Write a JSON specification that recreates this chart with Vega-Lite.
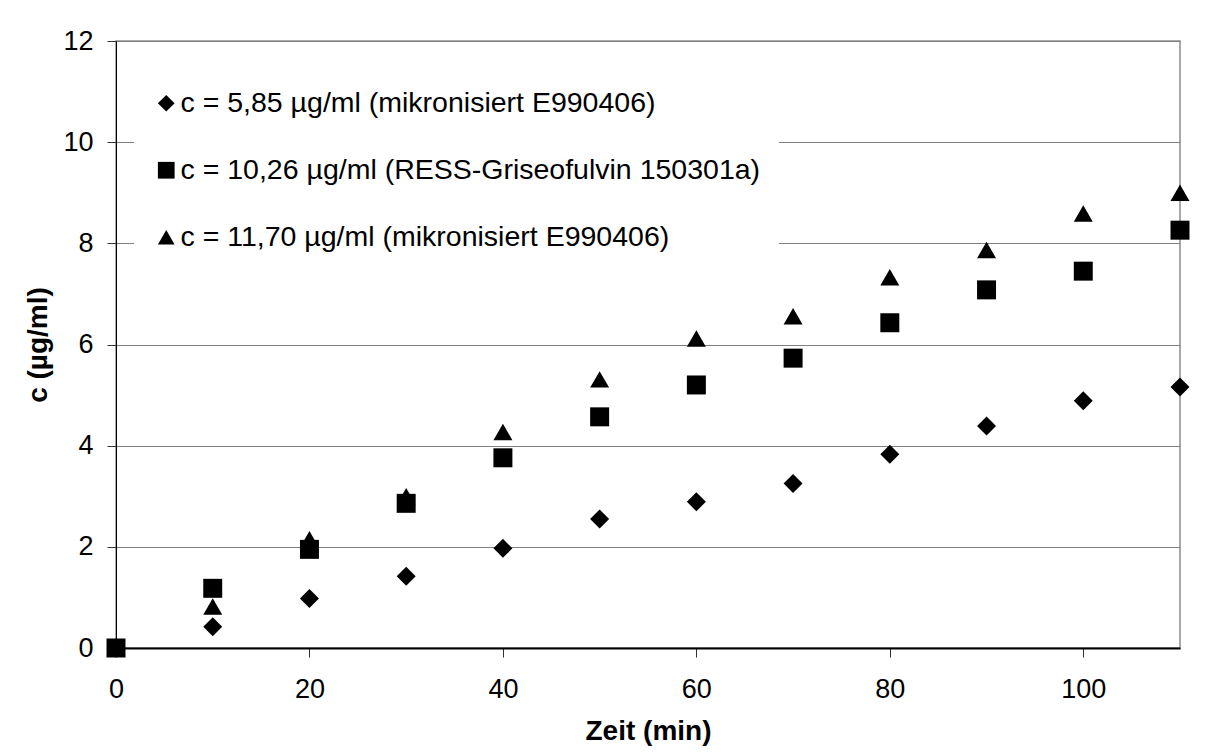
{
  "$schema": "https://vega.github.io/schema/vega-lite/v6.json",
  "width": 1064,
  "height": 607,
  "autosize": {"type": "none"},
  "padding": {"left": 116, "top": 41, "right": 31, "bottom": 108},
  "background": "white",
  "config": {
    "font": "Liberation Sans",
    "view": {"stroke": "#8c8c8c", "strokeWidth": 1.5},
    "axis": {
      "labelFont": "Liberation Sans",
      "titleFont": "Liberation Sans",
      "labelFontSize": 27,
      "titleFontSize": 28,
      "titleFontWeight": "bold",
      "labelColor": "black",
      "titleColor": "black",
      "domainColor": "black",
      "tickColor": "#333333",
      "tickSize": 9,
      "gridColor": "#808080",
      "gridWidth": 1
    }
  },
  "data": {
    "values": [
      {"t": 0, "c": 0, "s": "c = 11,70 µg/ml (mikronisiert E990406)"},
      {"t": 10, "c": 0.82, "s": "c = 11,70 µg/ml (mikronisiert E990406)"},
      {"t": 20, "c": 2.15, "s": "c = 11,70 µg/ml (mikronisiert E990406)"},
      {"t": 30, "c": 3.0, "s": "c = 11,70 µg/ml (mikronisiert E990406)"},
      {"t": 40, "c": 4.27, "s": "c = 11,70 µg/ml (mikronisiert E990406)"},
      {"t": 50, "c": 5.31, "s": "c = 11,70 µg/ml (mikronisiert E990406)"},
      {"t": 60, "c": 6.12, "s": "c = 11,70 µg/ml (mikronisiert E990406)"},
      {"t": 70, "c": 6.56, "s": "c = 11,70 µg/ml (mikronisiert E990406)"},
      {"t": 80, "c": 7.33, "s": "c = 11,70 µg/ml (mikronisiert E990406)"},
      {"t": 90, "c": 7.87, "s": "c = 11,70 µg/ml (mikronisiert E990406)"},
      {"t": 100, "c": 8.59, "s": "c = 11,70 µg/ml (mikronisiert E990406)"},
      {"t": 110, "c": 9.0, "s": "c = 11,70 µg/ml (mikronisiert E990406)"},
      {"t": 0, "c": 0, "s": "c = 5,85 µg/ml (mikronisiert E990406)"},
      {"t": 10, "c": 0.42, "s": "c = 5,85 µg/ml (mikronisiert E990406)"},
      {"t": 20, "c": 0.98, "s": "c = 5,85 µg/ml (mikronisiert E990406)"},
      {"t": 30, "c": 1.42, "s": "c = 5,85 µg/ml (mikronisiert E990406)"},
      {"t": 40, "c": 1.97, "s": "c = 5,85 µg/ml (mikronisiert E990406)"},
      {"t": 50, "c": 2.55, "s": "c = 5,85 µg/ml (mikronisiert E990406)"},
      {"t": 60, "c": 2.89, "s": "c = 5,85 µg/ml (mikronisiert E990406)"},
      {"t": 70, "c": 3.25, "s": "c = 5,85 µg/ml (mikronisiert E990406)"},
      {"t": 80, "c": 3.83, "s": "c = 5,85 µg/ml (mikronisiert E990406)"},
      {"t": 90, "c": 4.39, "s": "c = 5,85 µg/ml (mikronisiert E990406)"},
      {"t": 100, "c": 4.89, "s": "c = 5,85 µg/ml (mikronisiert E990406)"},
      {"t": 110, "c": 5.16, "s": "c = 5,85 µg/ml (mikronisiert E990406)"},
      {"t": 0, "c": 0, "s": "c = 10,26 µg/ml (RESS-Griseofulvin 150301a)"},
      {"t": 10, "c": 1.18, "s": "c = 10,26 µg/ml (RESS-Griseofulvin 150301a)"},
      {"t": 20, "c": 1.95, "s": "c = 10,26 µg/ml (RESS-Griseofulvin 150301a)"},
      {"t": 30, "c": 2.86, "s": "c = 10,26 µg/ml (RESS-Griseofulvin 150301a)"},
      {"t": 40, "c": 3.76, "s": "c = 10,26 µg/ml (RESS-Griseofulvin 150301a)"},
      {"t": 50, "c": 4.57, "s": "c = 10,26 µg/ml (RESS-Griseofulvin 150301a)"},
      {"t": 60, "c": 5.2, "s": "c = 10,26 µg/ml (RESS-Griseofulvin 150301a)"},
      {"t": 70, "c": 5.73, "s": "c = 10,26 µg/ml (RESS-Griseofulvin 150301a)"},
      {"t": 80, "c": 6.43, "s": "c = 10,26 µg/ml (RESS-Griseofulvin 150301a)"},
      {"t": 90, "c": 7.08, "s": "c = 10,26 µg/ml (RESS-Griseofulvin 150301a)"},
      {"t": 100, "c": 7.45, "s": "c = 10,26 µg/ml (RESS-Griseofulvin 150301a)"},
      {"t": 110, "c": 8.26, "s": "c = 10,26 µg/ml (RESS-Griseofulvin 150301a)"}
    ]
  },
  "mark": {"type": "point", "filled": true, "color": "black", "opacity": 1, "strokeWidth": 0, "size": 360},
  "encoding": {
    "x": {
      "field": "t",
      "type": "quantitative",
      "scale": {"domain": [0, 110], "nice": false, "zero": false},
      "axis": {
        "title": "Zeit (min)",
        "values": [0, 20, 40, 60, 80, 100],
        "grid": false,
        "domainWidth": 2,
        "labelPadding": 19,
        "titlePadding": 15,
        "labelFlush": false
      }
    },
    "y": {
      "field": "c",
      "type": "quantitative",
      "scale": {"domain": [0, 12], "nice": false},
      "axis": {
        "title": "c (µg/ml)",
        "values": [0, 2, 4, 6, 8, 10, 12],
        "grid": true,
        "domainWidth": 1,
        "labelPadding": 14,
        "titlePadding": 10,
        "labelFlush": false
      }
    },
    "shape": {
      "field": "s",
      "type": "nominal",
      "scale": {
        "domain": [
          "c = 5,85 µg/ml (mikronisiert E990406)",
          "c = 10,26 µg/ml (RESS-Griseofulvin 150301a)",
          "c = 11,70 µg/ml (mikronisiert E990406)"
        ],
        "range": ["diamond", "square", "triangle-up"]
      },
      "legend": {
        "title": null,
        "orient": "none",
        "legendX": 18,
        "legendY": 30,
        "padding": 18,
        "fillColor": "white",
        "labelFont": "Liberation Sans",
        "labelFontSize": 28.5,
        "labelColor": "black",
        "labelLimit": 0,
        "labelOffset": 0,
        "rowPadding": 38,
        "symbolSize": 280,
        "symbolFillColor": "black",
        "symbolStrokeColor": "black",
        "symbolStrokeWidth": 0,
        "symbolOpacity": 1
      }
    }
  }
}
